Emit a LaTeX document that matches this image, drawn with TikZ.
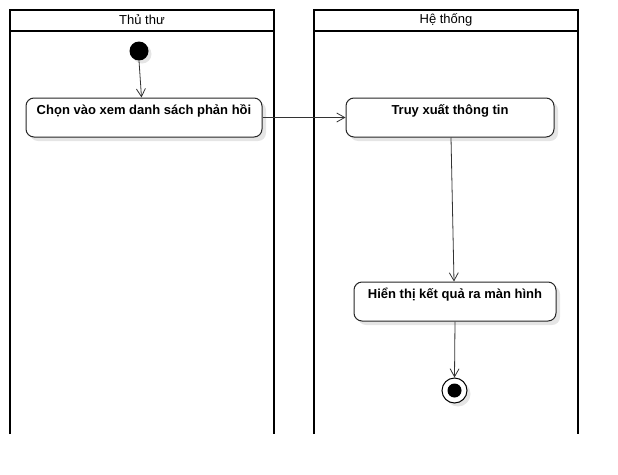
\documentclass[tikz,border=0pt]{standalone}
\usepackage{fontspec}
\setmainfont{Liberation Sans}
\usetikzlibrary{arrows.meta,shadows}
\begin{document}
\begin{tikzpicture}[x=1pt,y=-1pt,
  lane/.style={line width=2pt,draw=black},
  act/.style={draw=black!85,line width=1pt,rounded corners=8pt,fill=white,
    drop shadow={shadow xshift=4pt,shadow yshift=-4pt,fill=black!10,opacity=1}},
  acttext/.style={font=\bfseries\fontsize{13}{15}\selectfont,inner sep=0pt,anchor=base},
  flow/.style={draw=black!80,line width=0.8pt,-{Straight Barb[length=8pt,width=9pt,line width=0.8pt]}},
  head/.style={font=\fontsize{13}{15}\selectfont,inner sep=0pt}
]
\useasboundingbox (0,0) rectangle (618,474);
% lanes
\draw[lane] (10,434) -- (10,10) -- (274,10) -- (274,434);
\draw[lane] (10,31) -- (274,31);
\node[head] (h1) at (142,20) {Thủ thư};
\draw[lane] (314,434) -- (314,10) -- (578,10) -- (578,434);
\draw[lane] (314,31) -- (578,31);
\node[head] (h2) at (446,20) {Hệ thống};
% start
\fill[black!10] (142,54) circle (9.5);
\node[circle,fill=black,minimum size=19pt,inner sep=0pt] (start) at (139,51) {};
% activities
\node[act,minimum width=236pt,minimum height=39pt] (a1) at (144,117.5) {};
\node[acttext] (t1) at (144,114.5) {Chọn vào xem danh sách phản hồi};
\node[act,minimum width=208pt,minimum height=39pt] (a2) at (450,117.5) {};
\node[acttext] (t2) at (450,114.5) {Truy xuất thông tin};
\node[act,minimum width=202pt,minimum height=39pt] (a3) at (455,301.5) {};
\node[acttext] (t3) at (455,298.5) {Hiển thị kết quả ra màn hình};
% end
\fill[black!10] (458,394) circle (12.5);
\node[circle,draw=black,line width=1pt,fill=white,minimum size=25pt,inner sep=0pt] (end) at (454.5,390.5) {};
\node[circle,fill=black,minimum size=14pt,inner sep=0pt] (endin) at (end) {};
% flows
\coordinate (s2) at (141.5,97.5);
\draw[flow] (start.south) -- (a1.north -| s2);
\draw[flow] (a1.east) -- (a2.west);
\draw[flow] ([xshift=1pt]a2.south) -- ([xshift=-1pt]a3.north);
\draw[flow] (a3.south) -- (end.north);
\end{tikzpicture}
\end{document}
